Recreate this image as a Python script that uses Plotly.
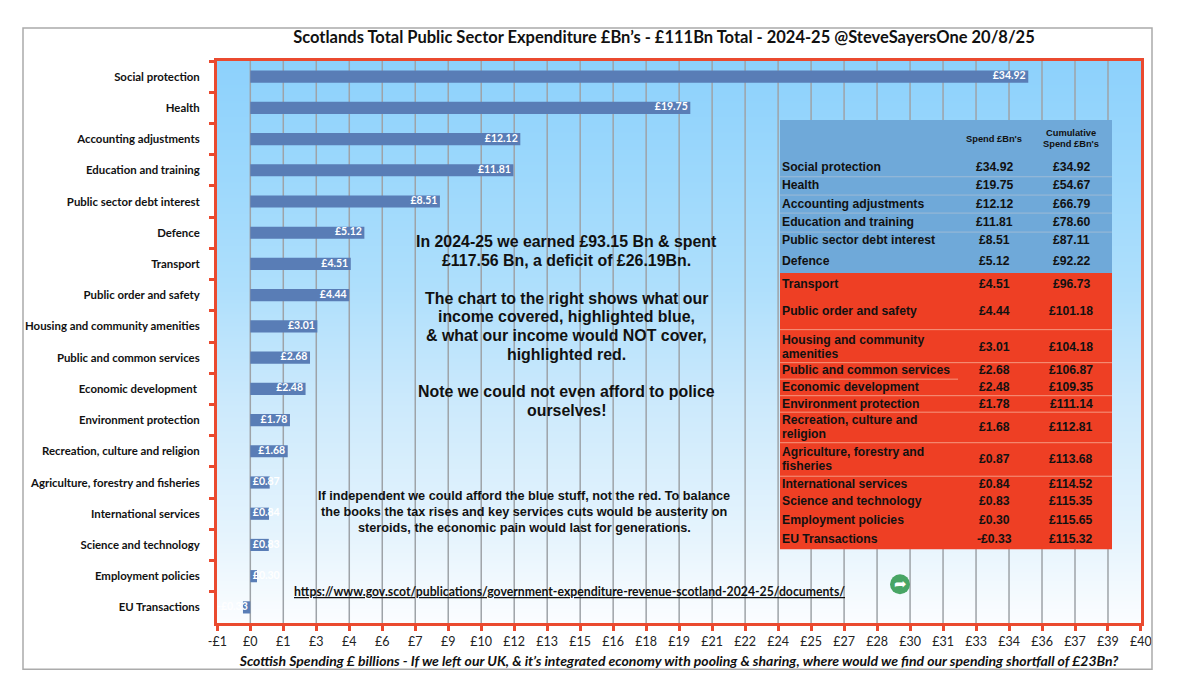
import plotly.graph_objects as go

# ---- data ----
categories = ["Social protection", "Health", "Accounting adjustments", "Education and training",
              "Public sector debt interest", "Defence", "Transport", "Public order and safety",
              "Housing and community amenities", "Public and common services", "Economic development ",
              "Environment protection", "Recreation, culture and religion",
              "Agriculture, forestry and fisheries", "International services", "Science and technology",
              "Employment policies", "EU Transactions"]
spend = [34.92, 19.75, 12.12, 11.81, 8.51, 5.12, 4.51, 4.44, 3.01, 2.68, 2.48, 1.78, 1.68, 0.87, 0.84, 0.83, 0.30, -0.33]
cumulative = [34.92, 54.67, 66.79, 78.60, 87.11, 92.22, 96.73, 101.18, 104.18, 106.87, 109.35, 111.14, 112.81,
              113.68, 114.52, 115.35, 115.65, 115.32]
tick_labels = ["-£1", "£0", "£1", "£3", "£4", "£6", "£7", "£9", "£10", "£12", "£13", "£15", "£16", "£18", "£19",
               "£21", "£22", "£24", "£25", "£27", "£28", "£30", "£31", "£33", "£34", "£36", "£37", "£39", "£40"]
table_names = ["Social protection", "Health", "Accounting adjustments", "Education and training",
               "Public sector debt interest", "Defence", "Transport", "Public order and safety",
               "Housing and community|amenities", "Public and common services", "Economic development",
               "Environment protection", "Recreation, culture and|religion", "Agriculture, forestry and|fisheries",
               "International services", "Science and technology", "Employment policies", "EU Transactions"]
title = "Scotlands Total Public Sector Expenditure £Bn’s - £111Bn Total - 2024-25 @SteveSayersOne 20/8/25"
x_title = "Scottish Spending £ billions - If we left our UK, & it’s integrated economy with pooling & sharing, where would we find our spending shortfall of £23Bn?"
note_one = ["In 2024-25 we earned £93.15 Bn & spent", "£117.56 Bn, a deficit of £26.19Bn.",
            "The chart to the right shows what our", "income covered, highlighted blue,",
            "& what our income would NOT cover,", "highlighted red.",
            "Note we could not even afford to police", "ourselves!"]
note_two = ["If independent we could afford the blue stuff, not the red. To balance",
            "the books the tax rises and key services cuts would be austerity on",
            "steroids, the economic pain would last for generations."]
link = "https://www.gov.scot/publications/government-expenditure-revenue-scotland-2024-25/documents/"

# ---- layout constants (pixels of the 1199x694 page) ----
W, H = 1199, 694
L, R, T, B = 217, 1141, 61, 622.7
TICK_STEP = 1.4807
X_MIN, X_MAX = -1.495, 39.98
row_y = [167, 185, 204, 222, 240, 261, 284, 311, 346.5, 370, 387, 404, 427, 459, 483.5, 501, 520, 539]
note_one_y = [241.7, 260, 298, 316.5, 335, 354, 391, 410]
note_two_y = [496, 512, 528]
blue_lines = [176.7, 195, 213, 232]
red_lines = [329.5, 362.5, 395.5, 412, 442.5, 476]


def px(x):
    return (x - L) / (R - L)


def py(y):
    return 1 - (y - T) / (B - T)


def text(x, y, s, size, family="Liberation Sans", color="#111111", bold=True, anchor="center"):
    s = f"<b>{s}</b>" if bold else s
    return dict(x=px(x), y=py(y), xref="paper", yref="paper", text=s, showarrow=False,
                xanchor=anchor, yanchor="middle", font=dict(family=family, size=size, color=color),
                align=anchor, borderpad=0, borderwidth=0)


def rect(x0, y0, x1, y1, fill=None, line=None, width=0):
    return dict(type="rect", xref="paper", yref="paper", x0=px(x0), x1=px(x1), y0=py(y0), y1=py(y1),
                fillcolor=fill or "rgba(0,0,0,0)", line=dict(color=line or "rgba(0,0,0,0)", width=width), layer="above")


def hline(x0, x1, y, color):
    return dict(type="line", xref="paper", yref="paper", x0=px(x0), x1=px(x1), y0=py(y), y1=py(y),
                line=dict(color=color, width=1), layer="above")


tick_vals = [TICK_STEP * (i - 1) for i in range(len(tick_labels))]

fig = go.Figure()

# gradient background on the hidden base axes
fig.add_trace(go.Heatmap(x=[0, 1], y=[0, 0.15, 0.4, 0.6, 0.8, 1],
                         z=[[v, v] for v in [0, 0.15, 0.4, 0.6, 0.8, 1]],
                         colorscale=[[0, "#fbfdff"], [0.15, "#e6f4fd"], [0.4, "#cbe9fc"], [0.6, "#aedffc"],
                                     [0.8, "#9cd8fc"], [1, "#8dd1fc"]],
                         zsmooth="best", showscale=False, hoverinfo="skip", xaxis="x", yaxis="y"))

# vertical gridlines, above the gradient and below the bars
grid_x, grid_y = [], []
for t in tick_vals[1:-1]:
    grid_x += [t, t, None]
    grid_y += [0, 1, None]
fig.add_trace(go.Scatter(x=grid_x, y=grid_y, mode="lines", line=dict(color="#9ea3a8", width=1.5),
                         xaxis="x2", yaxis="y2", hoverinfo="skip"))

fig.add_trace(go.Bar(x=spend, y=categories, orientation="h", marker=dict(color="#597db6", line=dict(width=0)),
                     xaxis="x3", yaxis="y3", width=0.39, hovertemplate="%{y}: £%{x:.2f}Bn<extra></extra>"))

label_x = [v if v >= 1.5 else 0 for v in spend]
label_pos = ["middle left" if (v >= 1.5 or v < 0) else "middle right" for v in spend]
label_text = []
for v, p in zip(spend, label_pos):
    s = f"£{v:.2f}" if v >= 0 else f"-£{abs(v):.2f}"
    label_text.append(s + "\u00a0" if p == "middle left" else "\u00a0" + s)
fig.add_trace(go.Scatter(x=label_x, y=categories, mode="text", text=label_text, textposition=label_pos,
                         textfont=dict(family="Lato", size=10.5, color="white", weight="bold"),
                         xaxis="x3", yaxis="y3", hoverinfo="skip", cliponaxis=False))

shapes = [
    rect(23, 28, 1152, 669, line="#ababab", width=1.5),
    rect(780, 120, 1112, 273, fill="#6fa9d9"),
    rect(780, 273, 1112, 549, fill="#ee3f24"),
]
shapes += [hline(780, 1112, y, "#9dbbd6") for y in blue_lines]
shapes += [hline(780, 1112, y, "#f59880") for y in red_lines]
shapes.append(hline(780, 958, 379, "#f59880"))
shapes.append(dict(type="circle", xref="paper", yref="paper", x0=px(890), x1=px(910), y0=py(594), y1=py(574),
                   fillcolor="#48a565", line=dict(width=0), layer="above"))

ann = []
for s, y in zip(note_one, note_one_y):
    ann.append(text(566.5, y, s, 15.9))
for s, y in zip(note_two, note_two_y):
    ann.append(text(524, y, s, 12.7))
ann.append(text(569, 591.7, f"<u>{link}</u>", 12.25, family="Lato"))
ann.append(text(994, 139, "Spend £Bn's", 9.3))
ann.append(text(1071, 133, "Cumulative", 9.3))
ann.append(text(1071, 143.5, "Spend £Bn's", 9.3))
for name, a, b, y in zip(table_names, spend, cumulative, row_y):
    parts = name.split("|")
    if len(parts) == 2:
        ann.append(text(782, y - 7, parts[0], 12.2, anchor="left"))
        ann.append(text(782, y + 7, parts[1], 12.2, anchor="left"))
    else:
        ann.append(text(782, y, parts[0], 12.2, anchor="left"))
    ann.append(text(994, y, f"£{a:.2f}" if a >= 0 else f"-£{abs(a):.2f}", 12.2))
    ann.append(text(1071, y, f"£{b:.2f}", 12.2))
ann.append(text(900, 584, "➦", 15, family="DejaVu Sans", color="white", bold=False))

fig.update_layout(
    width=W, height=H, margin=dict(l=L, r=W - R, t=T, b=H - B, pad=0, autoexpand=False),
    paper_bgcolor="white", plot_bgcolor="white", showlegend=False, barmode="overlay",
    title=dict(text=f"<b>{title}</b>", x=664 / W, xanchor="center",
               y=1 - 37 / H, yanchor="middle", font=dict(family="Lato", size=16.5, color="#111111")),
    xaxis=dict(range=[0, 1], visible=False, fixedrange=True),
    yaxis=dict(range=[0, 1], visible=False, fixedrange=True),
    xaxis2=dict(range=[X_MIN, X_MAX], overlaying="x", anchor="y2", visible=False, fixedrange=True),
    yaxis2=dict(range=[0, 1], overlaying="y", anchor="x2", visible=False, fixedrange=True),
    xaxis3=dict(range=[X_MIN, X_MAX], overlaying="x", side="bottom", anchor="y3", fixedrange=True,
                tickvals=tick_vals, ticktext=tick_labels,
                ticks="outside", ticklen=5, tickwidth=2.5, tickcolor="#ea4a2f",
                tickfont=dict(family="Lato", size=12.5, color="#222222"),
                showgrid=False, zeroline=False,
                showline=True, linecolor="#ea4a2f", linewidth=3, mirror=True,
                title=dict(text=f"<b><i>{x_title}</i></b>", standoff=9,
                           font=dict(family="Lato", size=14, color="#111111"))),
    yaxis3=dict(overlaying="y", side="left", anchor="x3", type="category", categoryorder="array",
                categoryarray=categories, autorange=False, range=[len(categories) - 0.5, -0.5], fixedrange=True,
                tickson="boundaries", ticks="outside", ticklen=5, tickwidth=2.5, tickcolor="#ea4a2f",
                ticklabelstandoff=12,
                tickfont=dict(family="Lato", size=11.4, color="#111111", weight="bold"),
                showgrid=False, zeroline=False, showline=True, linecolor="#ea4a2f", linewidth=3, mirror=True),
    shapes=shapes, annotations=ann,
)

fig.write_html("out.html", post_script="document.body.style.margin='0';", config=dict(displayModeBar=False))
